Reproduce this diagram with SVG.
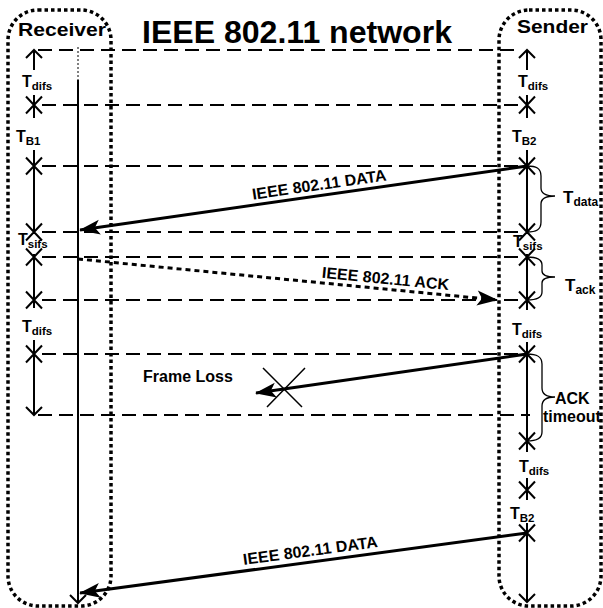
<svg xmlns="http://www.w3.org/2000/svg" width="603" height="608" viewBox="0 0 603 608">
<style>
.box{fill:none;stroke:#000;stroke-width:3.5;stroke-dasharray:3.5 3}
.dash{fill:none;stroke:#000;stroke-width:2;stroke-dasharray:14 7}
.axis{fill:none;stroke:#000;stroke-width:2}
.msg{fill:none;stroke:#000;stroke-width:3}
.brace{fill:none;stroke:#000;stroke-width:1.3}
.xm{fill:none;stroke:#000;stroke-width:2}
text{font-family:"Liberation Sans",Arial,sans-serif;font-weight:bold;fill:#000}
.lbl{font-size:16px}
.sub{font-size:11.5px}
</style>
<defs>
<marker id="open" viewBox="-10 -10 12 20" refX="0" refY="0" markerWidth="12" markerHeight="20" markerUnits="userSpaceOnUse" orient="auto">
<path d="M-8,-8 L0,0 L-8,8" fill="none" stroke="#000" stroke-width="2"/>
</marker>
<marker id="solid" viewBox="-22 -9 24 18" refX="0" refY="0" markerWidth="24" markerHeight="18" markerUnits="userSpaceOnUse" orient="auto">
<path d="M1,0 L-20,-7.5 L-15,0 L-20,7.5 Z" fill="#000"/>
</marker>
<path id="xmark" d="M-8,-8.5 L8,8.5 M8,-8.5 L-8,8.5" class="xm"/>
</defs>
<rect width="603" height="608" fill="#fff"/>

<g id="title">
<text x="142" y="43" font-size="31" textLength="310" lengthAdjust="spacingAndGlyphs">IEEE 802.11 network</text>
</g>

<g id="receiver">
<rect class="box" x="8" y="10" width="103" height="596" rx="30" ry="30"/>
<text x="18" y="36" font-size="19" textLength="88" lengthAdjust="spacingAndGlyphs">Receiver</text>
<path d="M78,47 L78,80" fill="none" stroke="#000" stroke-width="1" stroke-dasharray="2 2"/>
<path class="axis" d="M78,80 L78,603" marker-end="url(#open)"/>
</g>

<g id="sender">
<rect class="box" x="499" y="10" width="102" height="596" rx="30" ry="30"/>
<text x="517" y="33" font-size="19" textLength="71" lengthAdjust="spacingAndGlyphs">Sender</text>
</g>

<g id="receiver-timeline">
<path class="axis" d="M34,70 L34,50" marker-end="url(#open)"/>
<path class="axis" d="M34,95 L34,118"/>
<path class="axis" d="M34,150 L34,234"/>
<path class="axis" d="M34,254 L34,308"/>
<path class="axis" d="M34,340 L34,415" marker-end="url(#open)"/>
<use href="#xmark" x="34" y="105"/>
<use href="#xmark" x="34" y="166"/>
<use href="#xmark" x="34" y="232"/>
<use href="#xmark" x="34" y="257"/>
<use href="#xmark" x="34" y="300"/>
<use href="#xmark" x="34" y="354"/>
<text class="lbl" x="22" y="87">T<tspan class="sub" dy="3">difs</tspan></text>
<text class="lbl" x="16" y="142">T<tspan class="sub" dy="3">B1</tspan></text>
<text class="lbl" x="18" y="245">T<tspan class="sub" dy="3">sifs</tspan></text>
<text class="lbl" x="22" y="332">T<tspan class="sub" dy="3">difs</tspan></text>
</g>

<g id="sender-timeline">
<path class="axis" d="M527,70 L527,50" marker-end="url(#open)"/>
<path class="axis" d="M527,95 L527,118"/>
<path class="axis" d="M527,150 L527,234"/>
<path class="axis" d="M527,254 L527,310"/>
<path class="axis" d="M527,342 L527,452"/>
<path class="axis" d="M527,478 L527,500"/>
<path class="axis" d="M527,523 L527,602" marker-end="url(#open)"/>
<use href="#xmark" x="527" y="105"/>
<use href="#xmark" x="527" y="166"/>
<use href="#xmark" x="527" y="232"/>
<use href="#xmark" x="527" y="257"/>
<use href="#xmark" x="527" y="300"/>
<use href="#xmark" x="527" y="354"/>
<use href="#xmark" x="527" y="441"/>
<use href="#xmark" x="527" y="490"/>
<use href="#xmark" x="527" y="533"/>
<text class="lbl" x="518" y="87">T<tspan class="sub" dy="3">difs</tspan></text>
<text class="lbl" x="512" y="142">T<tspan class="sub" dy="3">B2</tspan></text>
<text class="lbl" x="513" y="247">T<tspan class="sub" dy="3">sifs</tspan></text>
<text class="lbl" x="512" y="335">T<tspan class="sub" dy="3">difs</tspan></text>
<text class="lbl" x="519" y="472">T<tspan class="sub" dy="3">difs</tspan></text>
<text class="lbl" x="510" y="519">T<tspan class="sub" dy="3">B2</tspan></text>
</g>

<g id="braces">
<path class="brace" d="M527,166 C536,166 541,168 541,176 L541,188 C541,194 546,196 555,196 C546,196 541,198 541,204 L541,222 C541,230 536,232 527,232"/>
<path class="brace" d="M527,257 C536,257 542,259 542,265 L542,271 C542,275 546,277 555,277 C546,277 542,279 542,283 L542,292 C542,298 536,300 527,300"/>
<path class="brace" d="M527,354 C536,354 542,356 542,364 L542,388 C542,394 546,397 555,397 C546,397 542,400 542,406 L542,432 C542,439 536,441 527,441"/>
<text x="563" y="203" font-size="17">T<tspan font-size="12" dy="3">data</tspan></text>
<text x="565" y="291" font-size="17">T<tspan font-size="12" dy="3">ack</tspan></text>
<text class="lbl" x="555" y="404">ACK</text>
<text class="lbl" x="543" y="422">timeout</text>
</g>

<g id="connectors">
<path class="dash" d="M38,50 L520,50"/>
<path class="dash" d="M42,105 L519,105"/>
<path class="dash" d="M42,166 L519,166"/>
<path class="dash" d="M42,232 L519,232"/>
<path class="dash" d="M42,257 L519,257"/>
<path class="dash" d="M42,300 L519,300"/>
<path class="dash" d="M42,354 L519,354"/>
<path class="dash" d="M38,415 L530,415"/>

<path class="msg" d="M527,166 L80,230" marker-end="url(#solid)"/>
<path class="msg" d="M78,259 L497,300" stroke-dasharray="5 4" marker-end="url(#solid)"/>
<path class="msg" d="M527,354 L256,393" marker-end="url(#solid)"/>
<path class="msg" d="M527,533 L80,593" marker-end="url(#solid)"/>
<path d="M263,368 L302,407 M305,368 L267,407" fill="none" stroke="#000" stroke-width="1.5"/>
</g>

<g id="labels">
<text class="lbl" transform="translate(320,190) rotate(-8.3)" text-anchor="middle">IEEE 802.11 DATA</text>
<text class="lbl" transform="translate(385,284) rotate(5.6)" text-anchor="middle">IEEE 802.11 ACK</text>
<text class="lbl" x="143" y="382">Frame Loss</text>
<text class="lbl" transform="translate(311,556) rotate(-7.6)" text-anchor="middle">IEEE 802.11 DATA</text>
</g>
</svg>
